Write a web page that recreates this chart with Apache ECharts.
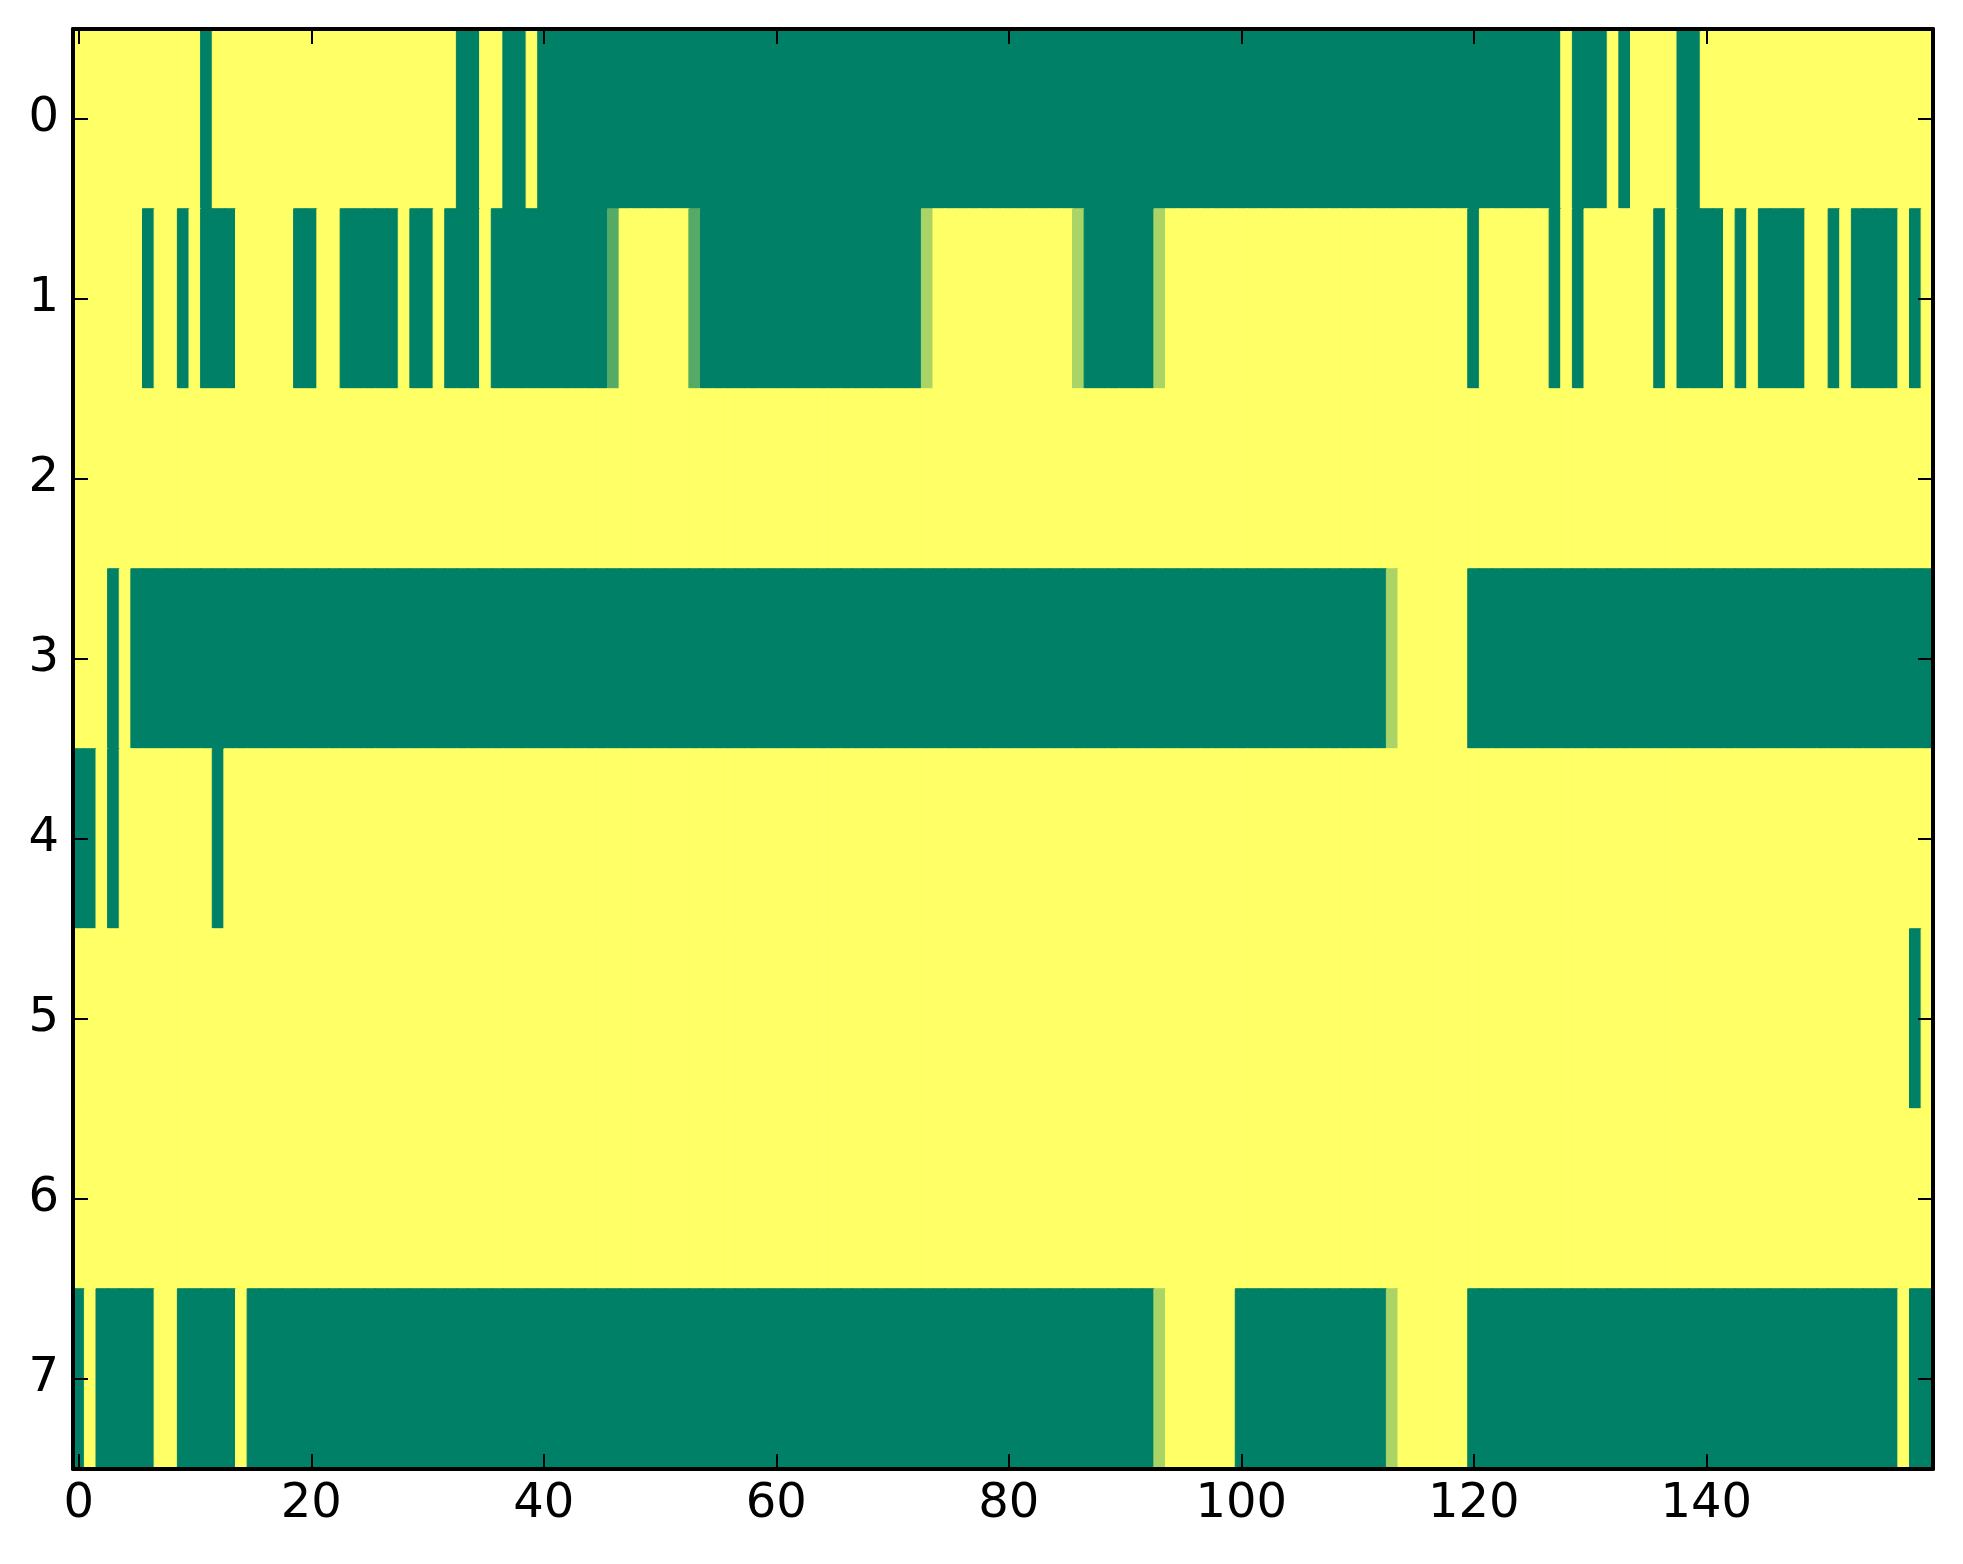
<!DOCTYPE html>
<html>
<head>
<meta charset="utf-8">
<script src="https://cdn.jsdelivr.net/npm/echarts@6/dist/echarts.min.js"></script>
<style>
html,body{margin:0;padding:0;background:#fff;}
#chart{width:1963px;height:1564px;}
</style>
</head>
<body>
<div id="chart"></div>
<script>
// Cell values (0 = dark green, 1 = yellow, summer colormap), one array per row, 160 columns each
var row0 = [
  1,1,1,1,1,1,1,1,1,1, 1,0,1,1,1,1,1,1,1,1,
  1,1,1,1,1,1,1,1,1,1, 1,1,1,0,0,1,1,0,0,1,
  0,0,0,0,0,0,0,0,0,0, 0,0,0,0,0,0,0,0,0,0,
  0,0,0,0,0,0,0,0,0,0, 0,0,0,0,0,0,0,0,0,0,
  0,0,0,0,0,0,0,0,0,0, 0,0,0,0,0,0,0,0,0,0,
  0,0,0,0,0,0,0,0,0,0, 0,0,0,0,0,0,0,0,0,0,
  0,0,0,0,0,0,0,0,1,0, 0,0,1,0,1,1,1,1,0,0,
  1,1,1,1,1,1,1,1,1,1, 1,1,1,1,1,1,1,1,1,1
];
var row1 = [
  1,1,1,1,1,1,0,1,1,0, 1,0,0,0,1,1,1,1,1,0,
  0,1,1,0,0,0,0,0,1,0, 0,1,0,0,0,1,0,0,0,0,
  0,0,0,0,0,0,0.333,1,1,1, 1,1,1,0.333,0,0,0,0,0,0,
  0,0,0,0,0,0,0,0,0,0, 0,0,0,0.667,1,1,1,1,1,1,
  1,1,1,1,1,1,0.667,0,0,0, 0,0,0,0.667,1,1,1,1,1,1,
  1,1,1,1,1,1,1,1,1,1, 1,1,1,1,1,1,1,1,1,1,
  0,1,1,1,1,1,1,0,1,0, 1,1,1,1,1,1,0,1,0,0,
  0,0,1,0,1,0,0,0,0,1, 1,0,1,0,0,0,0,1,0,1
];
var row2 = [
  1,1,1,1,1,1,1,1,1,1, 1,1,1,1,1,1,1,1,1,1,
  1,1,1,1,1,1,1,1,1,1, 1,1,1,1,1,1,1,1,1,1,
  1,1,1,1,1,1,1,1,1,1, 1,1,1,1,1,1,1,1,1,1,
  1,1,1,1,1,1,1,1,1,1, 1,1,1,1,1,1,1,1,1,1,
  1,1,1,1,1,1,1,1,1,1, 1,1,1,1,1,1,1,1,1,1,
  1,1,1,1,1,1,1,1,1,1, 1,1,1,1,1,1,1,1,1,1,
  1,1,1,1,1,1,1,1,1,1, 1,1,1,1,1,1,1,1,1,1,
  1,1,1,1,1,1,1,1,1,1, 1,1,1,1,1,1,1,1,1,1
];
var row3 = [
  1,1,1,0,1,0,0,0,0,0, 0,0,0,0,0,0,0,0,0,0,
  0,0,0,0,0,0,0,0,0,0, 0,0,0,0,0,0,0,0,0,0,
  0,0,0,0,0,0,0,0,0,0, 0,0,0,0,0,0,0,0,0,0,
  0,0,0,0,0,0,0,0,0,0, 0,0,0,0,0,0,0,0,0,0,
  0,0,0,0,0,0,0,0,0,0, 0,0,0,0,0,0,0,0,0,0,
  0,0,0,0,0,0,0,0,0,0, 0,0,0,0.667,1,1,1,1,1,1,
  0,0,0,0,0,0,0,0,0,0, 0,0,0,0,0,0,0,0,0,0,
  0,0,0,0,0,0,0,0,0,0, 0,0,0,0,0,0,0,0,0,0
];
var row4 = [
  0,0,1,0,1,1,1,1,1,1, 1,1,0,1,1,1,1,1,1,1,
  1,1,1,1,1,1,1,1,1,1, 1,1,1,1,1,1,1,1,1,1,
  1,1,1,1,1,1,1,1,1,1, 1,1,1,1,1,1,1,1,1,1,
  1,1,1,1,1,1,1,1,1,1, 1,1,1,1,1,1,1,1,1,1,
  1,1,1,1,1,1,1,1,1,1, 1,1,1,1,1,1,1,1,1,1,
  1,1,1,1,1,1,1,1,1,1, 1,1,1,1,1,1,1,1,1,1,
  1,1,1,1,1,1,1,1,1,1, 1,1,1,1,1,1,1,1,1,1,
  1,1,1,1,1,1,1,1,1,1, 1,1,1,1,1,1,1,1,1,1
];
var row5 = [
  1,1,1,1,1,1,1,1,1,1, 1,1,1,1,1,1,1,1,1,1,
  1,1,1,1,1,1,1,1,1,1, 1,1,1,1,1,1,1,1,1,1,
  1,1,1,1,1,1,1,1,1,1, 1,1,1,1,1,1,1,1,1,1,
  1,1,1,1,1,1,1,1,1,1, 1,1,1,1,1,1,1,1,1,1,
  1,1,1,1,1,1,1,1,1,1, 1,1,1,1,1,1,1,1,1,1,
  1,1,1,1,1,1,1,1,1,1, 1,1,1,1,1,1,1,1,1,1,
  1,1,1,1,1,1,1,1,1,1, 1,1,1,1,1,1,1,1,1,1,
  1,1,1,1,1,1,1,1,1,1, 1,1,1,1,1,1,1,1,0,1
];
var row6 = [
  1,1,1,1,1,1,1,1,1,1, 1,1,1,1,1,1,1,1,1,1,
  1,1,1,1,1,1,1,1,1,1, 1,1,1,1,1,1,1,1,1,1,
  1,1,1,1,1,1,1,1,1,1, 1,1,1,1,1,1,1,1,1,1,
  1,1,1,1,1,1,1,1,1,1, 1,1,1,1,1,1,1,1,1,1,
  1,1,1,1,1,1,1,1,1,1, 1,1,1,1,1,1,1,1,1,1,
  1,1,1,1,1,1,1,1,1,1, 1,1,1,1,1,1,1,1,1,1,
  1,1,1,1,1,1,1,1,1,1, 1,1,1,1,1,1,1,1,1,1,
  1,1,1,1,1,1,1,1,1,1, 1,1,1,1,1,1,1,1,1,1
];
var row7 = [
  0,1,0,0,0,0,0,1,1,0, 0,0,0,0,1,0,0,0,0,0,
  0,0,0,0,0,0,0,0,0,0, 0,0,0,0,0,0,0,0,0,0,
  0,0,0,0,0,0,0,0,0,0, 0,0,0,0,0,0,0,0,0,0,
  0,0,0,0,0,0,0,0,0,0, 0,0,0,0,0,0,0,0,0,0,
  0,0,0,0,0,0,0,0,0,0, 0,0,0,0.667,1,1,1,1,1,1,
  0,0,0,0,0,0,0,0,0,0, 0,0,0,0.667,1,1,1,1,1,1,
  0,0,0,0,0,0,0,0,0,0, 0,0,0,0,0,0,0,0,0,0,
  0,0,0,0,0,0,0,0,0,0, 0,0,0,0,0,0,0,1,0,0
];
var rows = [row0, row1, row2, row3, row4, row5, row6, row7];
var rowLabels = ['0','1','2','3','4','5','6','7'];
var xTickLabels = ['0','20','40','60','80','100','120','140'];

var nCols = row0.length;
var colCats = [];
for (var c = 0; c < nCols; c++) colCats.push(String(c));

// "summer" colormap: 0 -> (0,128,102), 1 -> (255,255,102)
function summer(v) {
  var r = Math.round(255 * v), g = Math.round(128 + 127 * v);
  return 'rgb(' + r + ',' + g + ',102)';
}

var cells = [];
rows.forEach(function (r, ri) {
  r.forEach(function (v, ci) {
    var col = summer(v);
    cells.push({ value: [ci, ri, v], itemStyle: { color: col, borderColor: col, borderWidth: 1 } });
  });
});

var FONT = 'DejaVu Sans';
var tickStyle = { show: true, inside: true, length: 15, alignWithLabel: true, lineStyle: { color: '#000', width: 2 } };
var lineStyle = { show: true, onZero: false, lineStyle: { color: '#000', width: 4 } };

var chart = echarts.init(document.getElementById('chart'), null, { renderer: 'canvas' });
chart.setOption({
  animation: false,
  backgroundColor: '#fff',
  grid: { left: 73, right: 30, top: 29, bottom: 95, containLabel: false },
  xAxis: [
    {
      type: 'category', data: colCats, position: 'bottom', boundaryGap: true, z: 10,
      axisLine: lineStyle,
      axisTick: Object.assign({}, tickStyle, { interval: 19 }),
      axisLabel: {
        interval: 19, fontSize: 48, fontFamily: FONT, color: '#000', margin: 12,
        formatter: function (v) { return xTickLabels.indexOf(v) >= 0 ? v : ''; }
      },
      splitLine: { show: false }
    },
    {
      type: 'category', data: colCats, position: 'top', boundaryGap: true, z: 10,
      axisLine: lineStyle,
      axisTick: Object.assign({}, tickStyle, { interval: 19 }),
      axisLabel: { show: false },
      splitLine: { show: false }
    }
  ],
  yAxis: [
    {
      type: 'category', data: rowLabels, inverse: true, position: 'left', boundaryGap: true, z: 10,
      axisLine: lineStyle,
      axisTick: Object.assign({}, tickStyle, { interval: 0 }),
      axisLabel: { interval: 0, fontSize: 48, fontFamily: FONT, color: '#000', margin: 14 },
      splitLine: { show: false }
    },
    {
      type: 'category', data: rowLabels, inverse: true, position: 'right', boundaryGap: true, z: 10,
      axisLine: lineStyle,
      axisTick: Object.assign({}, tickStyle, { interval: 0 }),
      axisLabel: { show: false },
      splitLine: { show: false }
    }
  ],
  series: [{
    type: 'heatmap',
    xAxisIndex: 0, yAxisIndex: 0,
    data: cells,
    emphasis: { disabled: true },
    progressive: 0,
    z: 2
  }]
});
</script>
</body>
</html>
